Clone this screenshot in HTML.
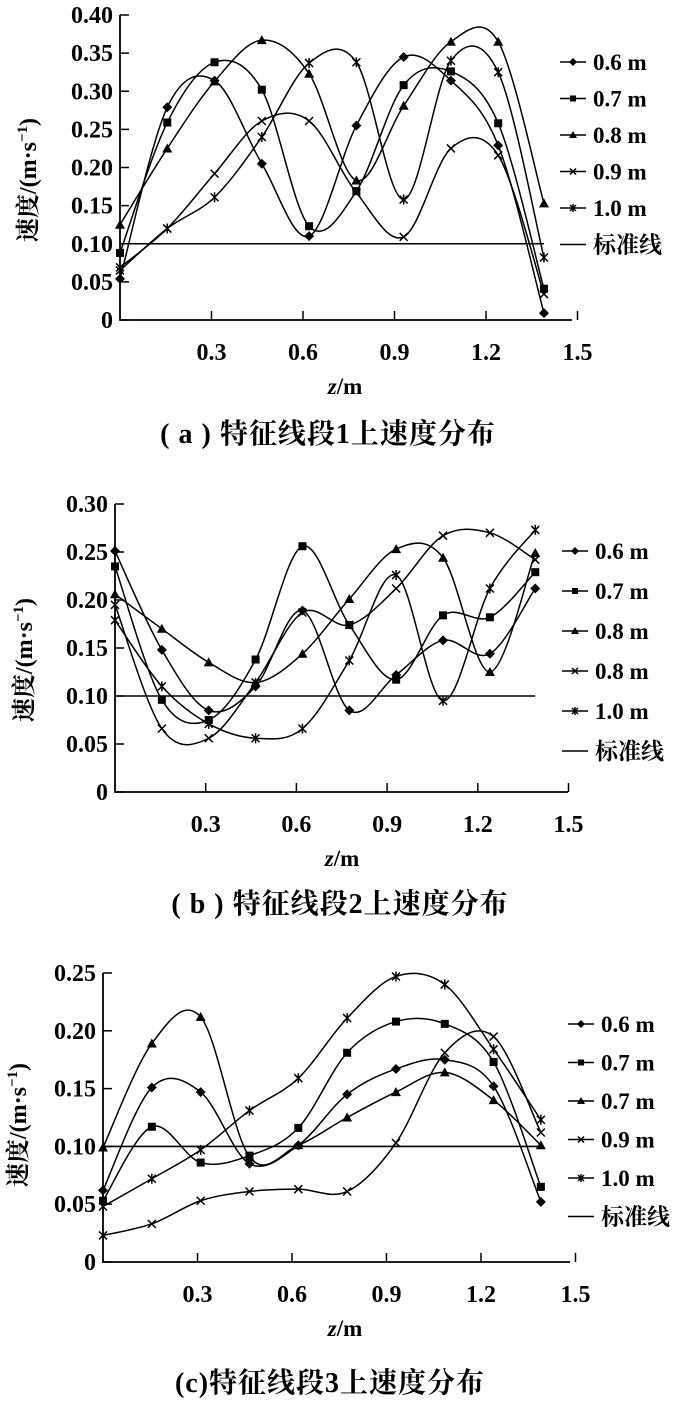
<!DOCTYPE html>
<html><head><meta charset="utf-8">
<style>
html,body{margin:0;padding:0;background:#fff;}
svg{display:block;font-family:"Liberation Serif","Noto Serif CJK SC",serif;}
</style></head>
<body>
<svg id="fig" width="700" height="1417" viewBox="0 0 700 1417" xmlns="http://www.w3.org/2000/svg"></svg>
<script>
// shared z positions
const zValues = [0, 0.155, 0.31, 0.465, 0.62, 0.775, 0.93, 1.085, 1.24, 1.39];
const xTicks = [0.3, 0.6, 0.9, 1.2, 1.5];
const xTickLabels = ["0.3", "0.6", "0.9", "1.2", "1.5"];
const standardValue = 0.10;

// chart a
const aLabels = ["0.6 m", "0.7 m", "0.8 m", "0.9 m", "1.0 m"];
const aS1 = [0.054, 0.279, 0.314, 0.205, 0.110, 0.255, 0.345, 0.314, 0.229, 0.009];
const aS2 = [0.088, 0.259, 0.338, 0.302, 0.123, 0.169, 0.308, 0.326, 0.258, 0.041];
const aS3 = [0.125, 0.225, 0.313, 0.367, 0.323, 0.183, 0.281, 0.365, 0.365, 0.153];
const aS4 = [0.069, 0.120, 0.192, 0.261, 0.261, 0.167, 0.109, 0.225, 0.216, 0.034];
const aS5 = [0.065, 0.120, 0.161, 0.240, 0.337, 0.338, 0.158, 0.340, 0.325, 0.082];
const aYTicks = [0, 0.05, 0.10, 0.15, 0.20, 0.25, 0.30, 0.35, 0.40];
const aYTickLabels = ["0", "0.05", "0.10", "0.15", "0.20", "0.25", "0.30", "0.35", "0.40"];

// chart b
const bLabels = ["0.6 m", "0.7 m", "0.8 m", "0.8 m", "1.0 m"];
const bS1 = [0.251, 0.148, 0.085, 0.110, 0.189, 0.085, 0.122, 0.158, 0.144, 0.212];
const bS2 = [0.235, 0.096, 0.075, 0.138, 0.256, 0.174, 0.117, 0.184, 0.182, 0.229];
const bS3 = [0.206, 0.170, 0.135, 0.114, 0.144, 0.201, 0.253, 0.244, 0.125, 0.249];
const bS4 = [0.195, 0.066, 0.056, 0.114, 0.187, 0.174, 0.212, 0.267, 0.270, 0.242];
const bS5 = [0.179, 0.110, 0.071, 0.056, 0.066, 0.137, 0.226, 0.095, 0.212, 0.273];
const bYTicks = [0, 0.05, 0.10, 0.15, 0.20, 0.25, 0.30];
const bYTickLabels = ["0", "0.05", "0.10", "0.15", "0.20", "0.25", "0.30"];

// chart c
const cLabels = ["0.6 m", "0.7 m", "0.7 m", "0.9 m", "1.0 m"];
const cS1 = [0.062, 0.151, 0.147, 0.085, 0.101, 0.145, 0.167, 0.175, 0.152, 0.052];
const cS2 = [0.053, 0.117, 0.086, 0.092, 0.116, 0.181, 0.208, 0.206, 0.173, 0.065];
const cS3 = [0.099, 0.189, 0.212, 0.091, 0.101, 0.125, 0.147, 0.164, 0.140, 0.101];
const cS4 = [0.023, 0.033, 0.053, 0.061, 0.063, 0.061, 0.103, 0.181, 0.195, 0.112];
const cS5 = [0.048, 0.072, 0.097, 0.131, 0.159, 0.211, 0.247, 0.240, 0.184, 0.123];
const cYTicks = [0, 0.05, 0.10, 0.15, 0.20, 0.25];
const cYTickLabels = ["0", "0.05", "0.10", "0.15", "0.20", "0.25"];

const NS = "http://www.w3.org/2000/svg";
const svg = document.getElementById("fig");
function mk(tag, attrs, parent) {
  const e = document.createElementNS(NS, tag);
  for (const k in attrs) e.setAttribute(k, attrs[k]);
  (parent || svg).appendChild(e);
  return e;
}
function spline(pts) {
  let d = "M" + pts[0][0] + "," + pts[0][1];
  for (let i = 0; i < pts.length - 1; i++) {
    const p0 = pts[Math.max(0, i - 1)], p1 = pts[i], p2 = pts[i + 1], p3 = pts[Math.min(pts.length - 1, i + 2)];
    const t = 1 / 6;
    d += " C" + (p1[0] + (p2[0] - p0[0]) * t) + "," + (p1[1] + (p2[1] - p0[1]) * t) + " " +
      (p2[0] - (p3[0] - p1[0]) * t) + "," + (p2[1] - (p3[1] - p1[1]) * t) + " " + p2[0] + "," + p2[1];
  }
  return d;
}
function marker(g, type, x, y, s) {
  s = s || 4;
  if (type === 0) mk("polygon", {points: `${x},${y - s - 1} ${x + s + 1},${y} ${x},${y + s + 1} ${x - s - 1},${y}`, fill: "#000"}, g);
  else if (type === 1) mk("rect", {x: x - s, y: y - s, width: 2 * s, height: 2 * s, fill: "#000"}, g);
  else if (type === 2) mk("polygon", {points: `${x},${y - s - 1} ${x + s + 1},${y + s} ${x - s - 1},${y + s}`, fill: "#000"}, g);
  else if (type === 3) {
    mk("path", {d: `M${x - s},${y - s}L${x + s},${y + s}M${x - s},${y + s}L${x + s},${y - s}`, stroke: "#000", "stroke-width": 1.5}, g);
  } else {
    mk("path", {d: `M${x - s},${y - s}L${x + s},${y + s}M${x - s},${y + s}L${x + s},${y - s}M${x},${y - s - 1}L${x},${y + s + 1}`, stroke: "#000", "stroke-width": 1.5}, g);
  }
}
function chart(cfg) {
  const g = mk("g", {});
  
  
  const xs = v => cfg.x0 + v / 0.3 * cfg.xPer;
  const ys = v => cfg.y0 - v / cfg.yMax * (cfg.y0 - cfg.yTop);
  const ax = mk("path", {d: `M${cfg.x0},${cfg.yTop}V${cfg.y0}H${cfg.xEnd}`, stroke: "#000", "stroke-width": 1.8, fill: "none"}, g);
  
  
  cfg.yTicks.forEach((v, i) => {
    mk("line", {x1: cfg.x0, x2: cfg.x0 + 9, y1: ys(v), y2: ys(v), stroke: "#000", "stroke-width": 1.5}, g);
    const t = mk("text", {x: cfg.x0 - 7, y: ys(v) + 8, "text-anchor": "end", "font-size": 24, "font-weight": "bold"}, g);
    t.textContent = cfg.yLabels[i];
    
    
  });
  xTicks.forEach((v, i) => {
    mk("line", {x1: xs(v), x2: xs(v), y1: cfg.y0, y2: cfg.y0 - 9, stroke: "#000", "stroke-width": 1.5}, g);
    const t = mk("text", {x: xs(v), y: cfg.y0 + 40, "text-anchor": "middle", "font-size": 24, "font-weight": "bold"}, g);
    t.textContent = xTickLabels[i];
    
    
  });
  const xt = mk("text", {x: cfg.xTitleX, y: cfg.y0 + 74, "text-anchor": "middle", "font-size": 23, "font-weight": "bold"}, g);
  xt.innerHTML = '<tspan font-style="italic">z</tspan>/m';
  
  
  const yt = mk("text", {x: 0, y: 0, "text-anchor": "middle", "font-size": 24, "font-weight": "bold", transform: `translate(${cfg.yTitleX},${cfg.yTitleY}) rotate(-90)`}, g);
  yt.innerHTML = '速度/(m·s<tspan dy="-9" font-size="15">−1</tspan><tspan dy="9">)</tspan>';
  
  
  const sl = mk("line", {x1: cfg.x0, x2: xs(zValues[zValues.length - 1]), y1: ys(standardValue), y2: ys(standardValue), stroke: "#000", "stroke-width": 1.6}, g);
  
  
  cfg.series.forEach((vals, si) => {
    const sg = mk("g", {}, g);
    
    
    const pts = vals.map((v, i) => [xs(zValues[i]), ys(v)]);
    mk("path", {d: spline(pts), fill: "none", stroke: "#000", "stroke-width": 1.5}, sg);
    pts.forEach(p => marker(sg, si, p[0], p[1]));
  });
  const lg = mk("g", {}, g);
  
  
  const names = cfg.labels.concat(["标准线"]);
  names.forEach((n, i) => {
    const y = cfg.legY + i * cfg.legStep;
    const eg = mk("g", {}, lg);
    
    
    mk("line", {x1: cfg.legX, x2: cfg.legX + 26, y1: y, y2: y, stroke: "#000", "stroke-width": 1.5}, eg);
    if (i < 5) marker(eg, i, cfg.legX + 13, y, 3);
    const t = mk("text", {x: cfg.legX + 33, y: y + 8, "font-size": 23, "font-weight": "bold"}, eg);
    t.textContent = n;
  });
  const cap = mk("text", {x: cfg.capX, y: cfg.capY, "text-anchor": "middle", "font-size": 28, "font-weight": "bold", "letter-spacing": cfg.capLS}, g);
  cap.textContent = cfg.caption;
  
  
}
chart({name: "chart-a", x0: 120, xPer: 91.5, xEnd: 572, y0: 320, yTop: 15, yMax: 0.40,
  yTicks: aYTicks, yLabels: aYTickLabels, series: [aS1, aS2, aS3, aS4, aS5], labels: aLabels,
  legX: 560, legY: 62, legStep: 36.5, xTitleX: 345, yTitleX: 36, yTitleY: 180,
  capX: 328, capY: 443, capLS: 1, caption: "( a ) 特征线段1上速度分布"});
chart({name: "chart-b", x0: 115, xPer: 90.7, xEnd: 568, y0: 792, yTop: 504, yMax: 0.30,
  yTicks: bYTicks, yLabels: bYTickLabels, series: [bS1, bS2, bS3, bS4, bS5], labels: bLabels,
  legX: 562, legY: 551, legStep: 40, xTitleX: 342, yTitleX: 32, yTitleY: 660,
  capX: 340, capY: 913, capLS: 1, caption: "( b ) 特征线段2上速度分布"});
chart({name: "chart-c", x0: 103, xPer: 94.5, xEnd: 570, y0: 1262, yTop: 973, yMax: 0.25,
  yTicks: cYTicks, yLabels: cYTickLabels, series: [cS1, cS2, cS3, cS4, cS5], labels: cLabels,
  legX: 568, legY: 1024, legStep: 38.5, xTitleX: 345, yTitleX: 26, yTitleY: 1125,
  capX: 330, capY: 1392, capLS: 1, caption: "(c)特征线段3上速度分布"});
</script>
</body></html>
